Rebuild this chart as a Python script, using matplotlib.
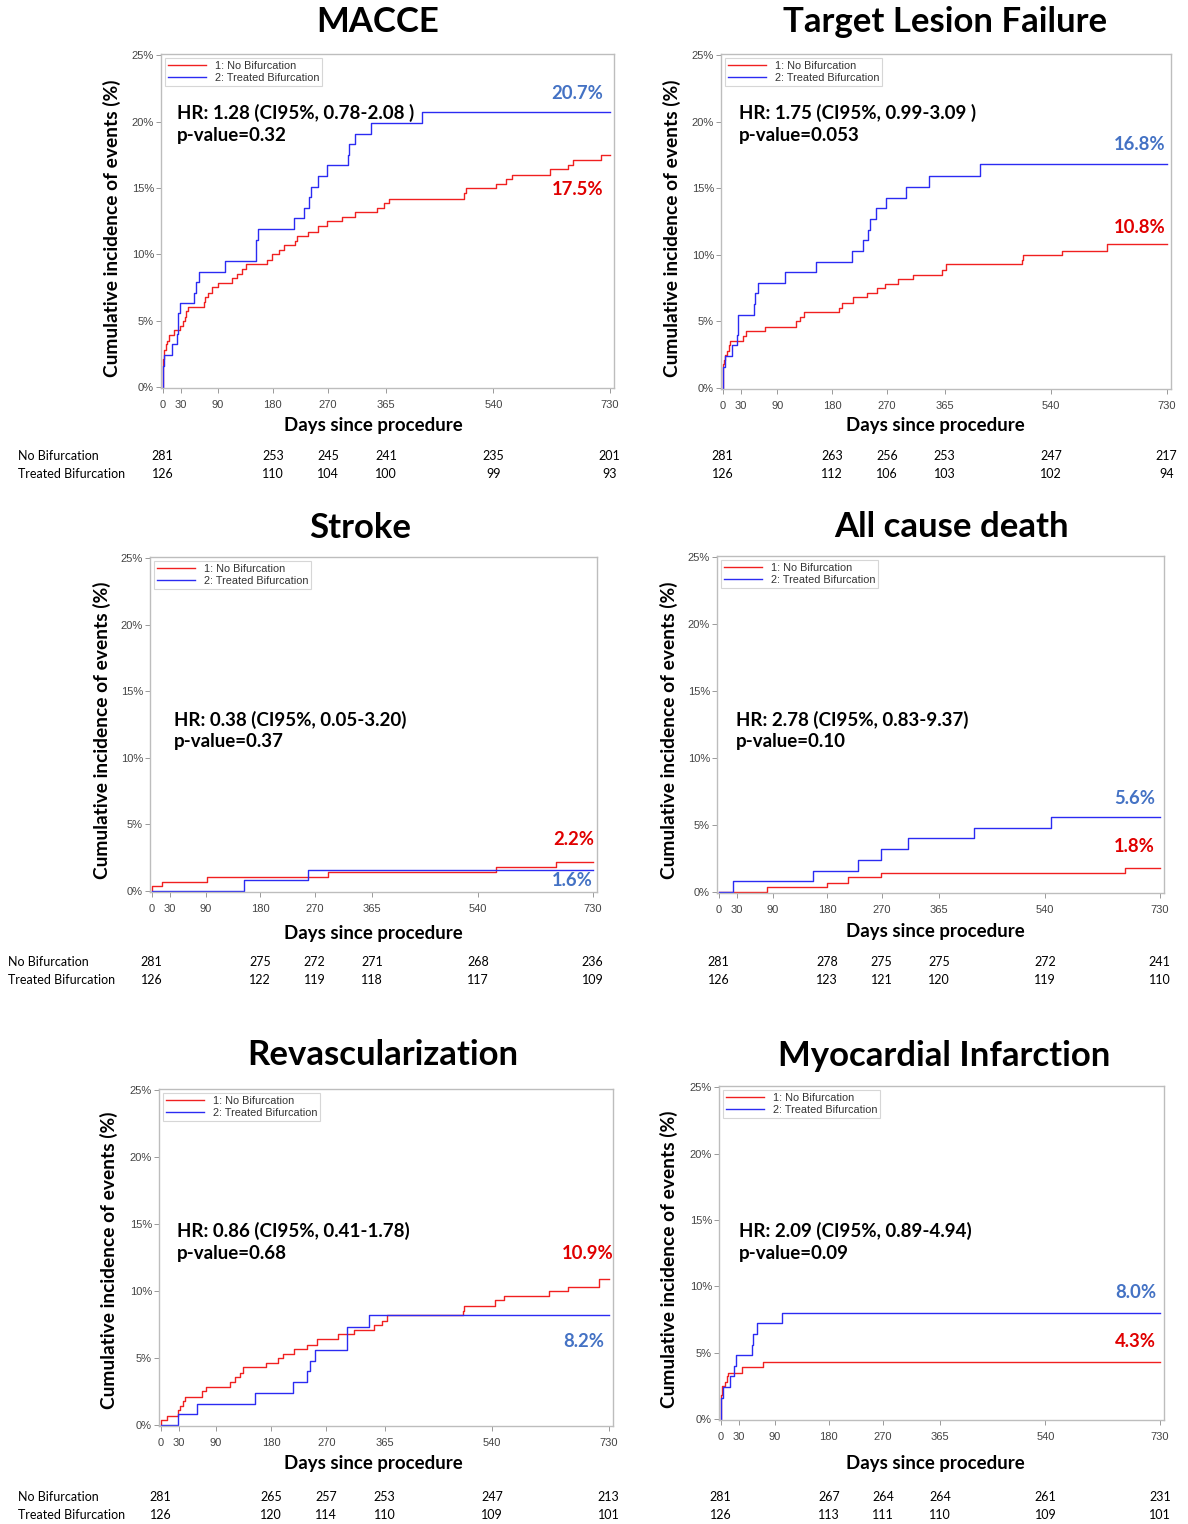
import matplotlib
matplotlib.use("Agg")
import matplotlib.pyplot as plt
from matplotlib.ticker import FuncFormatter
from matplotlib.transforms import blended_transform_factory

# Kaplan-Meier style cumulative incidence (%)
macce_nb_days = [0, 0.5, 1, 2, 3, 5, 7, 10, 18, 29, 33, 36, 39, 41, 67, 70, 75, 80, 91, 113, 121, 129, 136,
                 170, 179, 190, 199, 216, 219, 238, 254, 268, 293, 314, 350, 362, 369, 492, 495, 545, 560,
                 571, 633, 662, 670, 715, 730]
macce_nb_pct = [0, 1.7, 2.1, 2.5, 2.8, 3.2, 3.5, 3.9, 4.3, 4.6, 5.0, 5.3, 5.7, 6.0, 6.4, 6.8, 7.1, 7.5, 7.8,
                8.2, 8.5, 8.9, 9.3, 9.6, 10.0, 10.3, 10.7, 11.0, 11.4, 11.7, 12.1, 12.5, 12.8, 13.2, 13.5,
                13.9, 14.2, 14.6, 15.0, 15.3, 15.7, 16.0, 16.4, 16.7, 17.1, 17.5, 17.5]
macce_tb_days = [0, 1.5, 2, 15, 23, 25, 26, 29, 52, 55, 59, 102, 153, 156, 214, 231, 239, 243, 253, 268,
                 302, 304, 314, 341, 424, 730]
macce_tb_pct = [0, 1.6, 2.4, 3.2, 4.0, 4.8, 5.6, 6.3, 7.1, 7.9, 8.7, 9.5, 11.1, 11.9, 12.7, 13.5, 14.3,
                15.1, 15.9, 16.7, 17.5, 18.3, 19.1, 19.9, 20.7, 20.7]

tlf_nb_days = [0, 0.5, 1, 2, 4, 7, 10, 12, 34, 39, 70, 121, 128, 134, 191, 197, 214, 237, 254, 267, 289,
               313, 361, 368, 492, 494, 558, 632, 730]
tlf_nb_pct = [0, 1.4, 1.8, 2.1, 2.5, 2.8, 3.2, 3.5, 3.9, 4.3, 4.6, 5.0, 5.3, 5.7, 6.0, 6.4, 6.8, 7.1, 7.5,
              7.8, 8.2, 8.5, 8.9, 9.3, 9.6, 10.0, 10.3, 10.8, 10.8]
tlf_tb_days = [0, 1, 4, 15, 23, 25, 26, 51, 54, 58, 102, 153, 213, 231, 239, 242, 252, 268, 301, 340, 423, 730]
tlf_tb_pct = [0, 1.6, 2.4, 3.2, 4.0, 4.7, 5.5, 6.3, 7.1, 7.9, 8.7, 9.5, 10.3, 11.1, 11.9, 12.7, 13.5, 14.3,
              15.1, 15.9, 16.8, 16.8]

stroke_nb_days = [0, 1, 18, 91, 292, 570, 669, 730]
stroke_nb_pct = [0, 0.36, 0.7, 1.05, 1.4, 1.8, 2.2, 2.2]
stroke_tb_days = [0, 153, 259, 730]
stroke_tb_pct = [0, 0.8, 1.6, 1.6]

death_nb_days = [0, 81, 180, 214, 268, 673, 730]
death_nb_pct = [0, 0.36, 0.7, 1.1, 1.4, 1.8, 1.8]
death_tb_days = [0, 24, 156, 231, 268, 314, 423, 550, 730]
death_tb_pct = [0, 0.8, 1.6, 2.4, 3.2, 4.0, 4.8, 5.6, 5.6]

revasc_nb_days = [0, 1, 11, 29, 32, 36, 40, 67, 74, 113, 121, 129, 134, 171, 192, 199, 218, 238, 255, 289,
                  315, 348, 361, 369, 492, 495, 545, 560, 633, 663, 714, 730]
revasc_nb_pct = [0, 0.36, 0.7, 1.1, 1.4, 1.8, 2.1, 2.5, 2.8, 3.2, 3.6, 3.9, 4.3, 4.6, 5.0, 5.3, 5.7, 6.0,
                 6.4, 6.8, 7.1, 7.5, 7.8, 8.2, 8.5, 8.9, 9.3, 9.6, 10.0, 10.3, 10.9, 10.9]
revasc_tb_days = [0, 29, 59, 154, 215, 239, 243, 252, 303, 304, 340, 730]
revasc_tb_pct = [0, 0.8, 1.6, 2.4, 3.2, 4.0, 4.8, 5.6, 6.4, 7.3, 8.2, 8.2]

mi_nb_days = [0, 0.5, 1, 2, 3, 7, 10, 12, 36, 70, 730]
mi_nb_pct = [0, 1.4, 1.8, 2.1, 2.5, 2.8, 3.2, 3.5, 3.9, 4.3, 4.3]
mi_tb_days = [0, 1, 4, 16, 22, 25, 52, 54, 60, 102, 730]
mi_tb_pct = [0, 1.6, 2.4, 3.2, 4.0, 4.8, 5.6, 6.4, 7.2, 8.0, 8.0]

# numbers at risk
risk_days = [0, 180, 270, 365, 540, 730]
macce_risk_nb = [281, 253, 245, 241, 235, 201]
macce_risk_tb = [126, 110, 104, 100, 99, 93]
tlf_risk_nb = [281, 263, 256, 253, 247, 217]
tlf_risk_tb = [126, 112, 106, 103, 102, 94]
stroke_risk_nb = [281, 275, 272, 271, 268, 236]
stroke_risk_tb = [126, 122, 119, 118, 117, 109]
death_risk_nb = [281, 278, 275, 275, 272, 241]
death_risk_tb = [126, 123, 121, 120, 119, 110]
revasc_risk_nb = [281, 265, 257, 253, 247, 213]
revasc_risk_tb = [126, 120, 114, 110, 109, 101]
mi_risk_nb = [281, 267, 264, 264, 261, 231]
mi_risk_tb = [126, 113, 111, 110, 109, 101]

titles = ["MACCE", "Target Lesion Failure", "Stroke", "All cause death", "Revascularization",
          "Myocardial Infarction"]
hr_texts = ["HR: 1.28 (CI95%, 0.78-2.08 )", "HR: 1.75 (CI95%, 0.99-3.09 )", "HR: 0.38 (CI95%, 0.05-3.20)",
            "HR: 2.78 (CI95%, 0.83-9.37)", "HR: 0.86 (CI95%, 0.41-1.78)", "HR: 2.09 (CI95%, 0.89-4.94)"]
p_texts = ["p-value=0.32", "p-value=0.053", "p-value=0.37", "p-value=0.10", "p-value=0.68", "p-value=0.09"]
end_nb = ["17.5%", "10.8%", "2.2%", "1.8%", "10.9%", "4.3%"]
end_tb = ["20.7%", "16.8%", "1.6%", "5.6%", "8.2%", "8.0%"]

FIG_W, FIG_H = 1188, 1524
RED = "#F02020"
BLUE = "#2B2BF2"
LBL_RED = "#E00000"
LBL_BLUE = "#4472C4"
BOLD = "Lato"
PLAIN = "Liberation Sans"

# pixel layout: axes box (l, t, r, b), title xy, xlabel xy, ylabel xy, HR xy, risk rows y,
# row label x (None = no labels), end label positions (day, pct) for nb / tb
layout = [
    dict(box=(161, 54, 614, 388), title=(378, 22), xl=(373, 426), yl=(112, 228), hr=(177, 113),
         risk_y=(456, 474), row_x=18, nb_pos=(720, 14.9), tb_pos=(719, 22.1)),
    dict(box=(721, 54, 1171, 389), title=(945, 22), xl=(935, 425), yl=(672, 228), hr=(739, 113),
         risk_y=(456, 474), row_x=None, nb_pos=(728, 12.05), tb_pos=(728, 18.3)),
    dict(box=(150, 557, 597, 892), title=(360, 528), xl=(373, 934), yl=(102, 730), hr=(174, 720),
         risk_y=(962, 980), row_x=8, nb_pos=(732, 3.83), tb_pos=(730, 0.75)),
    dict(box=(717, 556, 1164, 893), title=(951, 527), xl=(935, 932), yl=(669, 730), hr=(736, 720),
         risk_y=(962, 980), row_x=None, nb_pos=(722, 3.43), tb_pos=(723, 7.0)),
    dict(box=(159, 1089, 613, 1426), title=(383, 1055), xl=(373, 1463), yl=(109, 1260), hr=(177, 1231),
         risk_y=(1497, 1515), row_x=18, nb_pos=(738, 12.8), tb_pos=(722, 6.27)),
    dict(box=(719, 1086, 1164, 1420), title=(944, 1056), xl=(935, 1463), yl=(669, 1259), hr=(739, 1231),
         risk_y=(1497, 1515), row_x=None, nb_pos=(723, 5.87), tb_pos=(725, 9.5)),
]

curves = [
    (macce_nb_days, macce_nb_pct, macce_tb_days, macce_tb_pct, macce_risk_nb, macce_risk_tb),
    (tlf_nb_days, tlf_nb_pct, tlf_tb_days, tlf_tb_pct, tlf_risk_nb, tlf_risk_tb),
    (stroke_nb_days, stroke_nb_pct, stroke_tb_days, stroke_tb_pct, stroke_risk_nb, stroke_risk_tb),
    (death_nb_days, death_nb_pct, death_tb_days, death_tb_pct, death_risk_nb, death_risk_tb),
    (revasc_nb_days, revasc_nb_pct, revasc_tb_days, revasc_tb_pct, revasc_risk_nb, revasc_risk_tb),
    (mi_nb_days, mi_nb_pct, mi_tb_days, mi_tb_pct, mi_risk_nb, mi_risk_tb),
]


def fx(px):
    return px / FIG_W


def fy(py):
    return 1 - py / FIG_H


fig = plt.figure(figsize=(FIG_W / 100, FIG_H / 100), dpi=100)

for i in range(6):
    lay = layout[i]
    nb_d, nb_p, tb_d, tb_p, r_nb, r_tb = curves[i]
    l, t, r, b = lay["box"]
    ax = fig.add_axes([fx(l), fy(b), fx(r - l), (b - t) / FIG_H])

    ax.step(nb_d, nb_p, where="post", color=RED, lw=1.0, label="1: No Bifurcation")
    ax.step(tb_d, tb_p, where="post", color=BLUE, lw=1.0, label="2: Treated Bifurcation")

    ax.set_xlim(-2.5, 737)
    ax.set_ylim(-0.08, 25.1)
    ax.set_xticks([0, 30, 90, 180, 270, 365, 540, 730])
    ax.set_yticks([0, 5, 10, 15, 20, 25])
    ax.yaxis.set_major_formatter(FuncFormatter(lambda v, pos: f"{int(v)}%"))
    ax.tick_params(labelsize=8, labelcolor="#444444", color="#999999", length=3.5, width=0.7)
    ax.tick_params(axis="x", pad=5)
    ax.tick_params(axis="y", pad=1.5)
    for lab in ax.get_xticklabels() + ax.get_yticklabels():
        lab.set_fontfamily(PLAIN)
    for sp in ax.spines.values():
        sp.set_color("#BDBDBD")
        sp.set_linewidth(1.0)

    leg = ax.legend(loc="upper left", frameon=True, fancybox=False, handlelength=3.5,
                    borderpad=0.3, labelspacing=0.15, handletextpad=0.8, borderaxespad=0.35,
                    prop={"family": PLAIN, "size": 7.8})
    leg.get_frame().set_edgecolor("#CCCCCC")
    leg.get_frame().set_linewidth(0.8)
    for txt in leg.get_texts():
        txt.set_color("#333333")

    # end-of-follow-up labels
    ax.text(lay["nb_pos"][0], lay["nb_pos"][1], end_nb[i], color=LBL_RED, fontsize=13.3,
            fontweight="bold", family=BOLD, ha="right", va="center")
    ax.text(lay["tb_pos"][0], lay["tb_pos"][1], end_tb[i], color=LBL_BLUE, fontsize=13.3,
            fontweight="bold", family=BOLD, ha="right", va="center")

    # titles, axis labels, hazard ratio
    fig.text(fx(lay["title"][0]), fy(lay["title"][1]), titles[i], fontsize=25, fontweight="bold",
             family=BOLD, ha="center", va="center")
    fig.text(fx(lay["xl"][0]), fy(lay["xl"][1]), "Days since procedure", fontsize=13.4,
             fontweight="bold", family=BOLD, ha="center", va="center")
    fig.text(fx(lay["yl"][0]), fy(lay["yl"][1]), "Cumulative incidence of events (%)", fontsize=13.8,
             fontweight="bold", family=BOLD, ha="center", va="center", rotation=90)
    hx, hy = lay["hr"]
    fig.text(fx(hx), fy(hy), hr_texts[i], fontsize=13.5, fontweight="bold", family=BOLD,
             ha="left", va="center")
    fig.text(fx(hx), fy(hy + 22), p_texts[i], fontsize=13.5, fontweight="bold", family=BOLD,
             ha="left", va="center")

    # numbers at risk, x in data coords of the panel
    trans = blended_transform_factory(ax.transData, fig.transFigure)
    y1, y2 = lay["risk_y"]
    for d, n1, n2 in zip(risk_days, r_nb, r_tb):
        ax.text(d, fy(y1), str(n1), transform=trans, fontsize=9, family=BOLD, ha="center",
                va="center", clip_on=False)
        ax.text(d, fy(y2), str(n2), transform=trans, fontsize=9, family=BOLD, ha="center",
                va="center", clip_on=False)
    if lay["row_x"] is not None:
        fig.text(fx(lay["row_x"]), fy(y1), "No Bifurcation", fontsize=9, family=BOLD,
                 ha="left", va="center")
        fig.text(fx(lay["row_x"]), fy(y2), "Treated Bifurcation", fontsize=9, family=BOLD,
                 ha="left", va="center")

fig.savefig("out.png", dpi=100)
